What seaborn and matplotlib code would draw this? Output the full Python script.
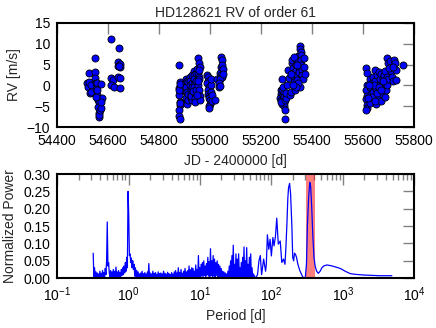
import numpy as np
import pandas as pd
import matplotlib
matplotlib.use('Agg')
import matplotlib.pyplot as plt
import seaborn as sns

# RV measurements, one list pair per observing season (JD - 2400000, m/s)
jd_s1 = [54518, 54520, 54524, 54524, 54527, 54531, 54531, 54548, 54550, 54549, 54551, 54555, 54552, 54557,
         54560, 54563, 54559, 54565, 54563, 54566, 54570, 54572, 54576, 54574, 54571, 54554, 54558,
         54612, 54642, 54640, 54645, 54637, 54645, 54610, 54619, 54612, 54623, 54640, 54645, 54648, 54642]
rv_s1 = [0.5, -0.3, 2.9, 0.9, -1.8, 0.1, -1.5, 6.7, 3.2, 1.8, 0.5, 0.5, -0.9, -2.3,
         -3.5, -4.1, -5.3, -6.7, -7.5, -7.0, -5.9, -5.5, -3.1, -4.0, 0.3, -2.8, -1.2,
         11.2, 8.9, 5.6, 5.1, 4.7, 4.4, 1.7, 1.3, 0.1, -0.3, 2.1, 1.7, -0.6, 4.6]

jd_s2 = [54878, 54880, 54876, 54881, 54879, 54882, 54881, 54877, 54879, 54880, 54878, 54883, 54880,
         54905, 54907, 54906, 54908, 54905, 54909, 54911, 54910, 54912, 54915, 54914,
         54920, 54922, 54921, 54924, 54923, 54925, 54927, 54928, 54929, 54926, 54930,
         54935, 54937, 54936, 54939, 54938, 54940, 54942, 54941, 54943, 54944, 54933, 54945,
         54952, 54955, 54950, 54953, 54956, 54958, 54954, 54957, 54960, 54959, 54962, 54951, 54948, 54956,
         54988, 54990, 54992, 54989, 54994, 54991, 54993, 54996, 54995, 54998, 55000, 54997, 54994,
         55002, 55004, 55006, 55008, 55003, 55020, 55025,
         55043, 55045, 55042, 55046, 55040, 55044, 55047, 55038, 55036, 55035, 55048, 55050, 55039, 55049]
rv_s2 = [4.8, 0.9, -0.7, -1.5, -2.3, -3.9, -4.6, -5.9, -7.3, -8.1, -1.1, 0.4, -4.2,
         1.5, 0.5, -0.5, -1.5, -3.0, -4.0, -4.5, 1.0, -2.0, 0.8, -3.6,
         2.0, 1.0, 0.0, -1.0, -2.0, -3.0, -3.5, 2.5, 0.5, -2.6, -0.4,
         3.5, 2.5, 1.5, 0.5, -0.5, -2.0, -3.0, -4.0, 3.0, 1.0, -1.4, -1.2,
         6.5, 5.5, 4.0, 3.0, 2.0, 1.5, 0.0, -1.0, -2.5, -3.5, 4.5, 1.0, -2.2, 3.6,
         2.5, 2.0, 1.0, 0.5, -0.5, -1.0, -2.0, -2.5, -3.0, -3.5, -4.5, -5.0, -5.5,
         0.0, -1.5, -3.8, -2.2, 1.5, -3.5, 1.5,
         6.8, 6.2, 4.5, 3.5, 3.0, 2.5, 2.0, 1.5, 0.5, -0.5, 5.0, 4.0, -0.2, 2.8]

jd_s3 = [55280, 55276, 55278, 55281, 55275, 55279, 55283, 55284, 55282, 55286, 55287, 55288, 55290,
         55292, 55294, 55289, 55285, 55291, 55277, 55293, 55296, 55298, 55300,
         55305, 55310, 55315, 55318, 55320, 55322, 55324, 55326, 55328, 55330, 55332, 55334, 55336,
         55338, 55340, 55342, 55344, 55346, 55348, 55350, 55352, 55353, 55354, 55355, 55356, 55357,
         55358, 55360, 55362, 55364, 55366, 55368, 55370, 55328, 55340, 55346, 55335, 55323, 55318]
rv_s3 = [1.5, -1.2, -2.0, -2.5, -3.0, -3.5, -1.0, -4.0, -4.5, -2.2, -3.2, -5.0, -4.2,
         -8.0, -6.0, -1.5, -0.5, -2.8, -4.0, -3.6, -3.0, -1.8, 0.0,
         3.8, 1.8, -2.2, -1.5, 5.5, 6.2, 4.2, 3.0, 2.0, 0.8, -1.0, 6.5, 5.0,
         3.5, 2.4, 1.2, 7.0, 5.8, 4.5, 3.2, -0.4, 9.5, 8.8, 8.0, 7.2, 6.2,
         5.0, 3.8, 2.5, 1.6, 6.5, 4.5, 2.8, 6.8, 4.8, 0.5, -0.5, 0.2, 2.8]

jd_s4 = [55612, 55613, 55614, 55612, 55616, 55611, 55615, 55613, 55612,
         55625, 55628, 55630, 55632, 55626, 55635, 55638, 55640, 55642, 55645, 55648, 55650, 55652,
         55655, 55658, 55660, 55662, 55664, 55666, 55668, 55670, 55672, 55674, 55676, 55678, 55680,
         55682, 55684, 55686, 55688, 55690, 55692, 55694, 55696, 55636, 55644, 55656, 55663, 55671,
         55679, 55622, 55620, 55646,
         55695, 55697, 55705, 55710, 55712, 55718, 55722, 55725, 55727, 55728, 55758, 55700, 55715]
rv_s4 = [4.3, 3.0, 0.0, -1.0, -2.5, -3.2, -4.8, -5.5, -6.0,
         1.5, -0.5, -2.0, -3.5, -4.2, 0.5, 2.0, -1.5, -3.0, 3.8, 1.0, -0.8, -4.5,
         2.5, 0.2, -2.5, 3.2, 1.5, -1.2, -3.8, 2.8, 0.0, -2.0, 1.8, -0.5, 2.4,
         0.8, -2.8, 3.5, 1.2, -1.0, 2.0, 0.2, 1.5, -2.8, 0.0, -1.8, -0.3, -1.0,
         1.0, 0.2, -3.0, -3.7,
         6.5, 5.5, 5.8, 3.5, 2.0, 1.0, 6.0, 5.5, 3.8, 1.3, 5.0, 4.2, 4.5]

# periodogram, short periods (0.32 - 56 d): dense forest of aliases
forest_pmin, forest_pmax = 0.32, 56.0
forest_power = [
    0.072, 0.002, 0.030, 0.001, 0.018, 0.003, 0.015, 0.000, 0.012, 0.002, 0.020, 0.001, 0.014, 0.003, 0.022, 0.002, 0.016, 0.004, 0.028, 0.010,
    0.050, 0.162, 0.035, 0.045, 0.015, 0.003, 0.022, 0.002, 0.018, 0.004, 0.025, 0.001, 0.020, 0.003, 0.032, 0.002, 0.018, 0.004, 0.022, 0.002,
    0.016, 0.005, 0.025, 0.008, 0.030, 0.010, 0.035, 0.015, 0.045, 0.020, 0.060, 0.030, 0.250, 0.185, 0.065, 0.070, 0.045, 0.058, 0.030, 0.050,
    0.025, 0.040, 0.006, 0.030, 0.003, 0.022, 0.002, 0.018, 0.004, 0.012, 0.001, 0.015, 0.003, 0.020, 0.002, 0.013, 0.001, 0.016, 0.003, 0.012,
    0.002, 0.018, 0.004, 0.042, 0.002, 0.015, 0.001, 0.012, 0.003, 0.020, 0.001, 0.014, 0.002, 0.016, 0.001, 0.011, 0.003, 0.018, 0.002, 0.013,
    0.001, 0.015, 0.002, 0.012, 0.001, 0.020, 0.003, 0.014, 0.001, 0.011, 0.002, 0.017, 0.001, 0.013, 0.003, 0.010, 0.001, 0.016, 0.002, 0.012,
    0.001, 0.018, 0.002, 0.022, 0.001, 0.015, 0.003, 0.030, 0.002, 0.016, 0.001, 0.025, 0.003, 0.014, 0.002, 0.020, 0.001, 0.028, 0.003, 0.018,
    0.002, 0.022, 0.001, 0.035, 0.003, 0.024, 0.002, 0.030, 0.004, 0.028, 0.002, 0.020, 0.003, 0.038, 0.005, 0.025, 0.002, 0.065, 0.004, 0.030,
    0.003, 0.040, 0.006, 0.045, 0.004, 0.050, 0.008, 0.035, 0.005, 0.042, 0.010, 0.060, 0.006, 0.048, 0.004, 0.085, 0.008, 0.050, 0.005, 0.065,
    0.006, 0.055, 0.004, 0.045, 0.008, 0.050, 0.003, 0.040, 0.005, 0.035, 0.002, 0.028, 0.004, 0.020, 0.001, 0.018, 0.003, 0.015, 0.001, 0.012,
    0.000, 0.020, 0.002, 0.035, 0.001, 0.050, 0.004, 0.065, 0.002, 0.095, 0.005, 0.040, 0.001, 0.070, 0.003, 0.055, 0.000, 0.070, 0.004, 0.030,
    0.001, 0.045, 0.000, 0.060, 0.003, 0.090, 0.002, 0.050, 0.000, 0.088, 0.004, 0.040, 0.001, 0.060, 0.000, 0.070, 0.002, 0.030, 0.000, 0.012]

# periodogram, long periods
long_period = [60, 64, 67, 70, 73, 78, 83, 85, 88, 92, 96, 100, 105, 109, 114, 119, 125, 133, 140, 148,
               155, 160, 165, 170, 174, 180, 186, 194, 199, 205, 211, 218, 225, 235, 250, 265, 282, 298,
               310, 320, 332, 345, 355, 368, 380, 395, 410, 430, 455, 482, 510, 540, 600, 680, 800, 920,
               1080, 1270, 1500, 1950, 2500, 3300, 4860]
long_power = [0.000, 0.010, 0.050, 0.065, 0.010, 0.055, 0.020, 0.040, 0.125, 0.083, 0.112, 0.064, 0.117,
              0.093, 0.120, 0.173, 0.098, 0.107, 0.045, 0.055, 0.040, 0.090, 0.156, 0.230, 0.261, 0.273,
              0.242, 0.146, 0.060, 0.050, 0.072, 0.068, 0.060, 0.040, 0.022, 0.010, 0.000, 0.000, 0.040,
              0.155, 0.230, 0.276, 0.265, 0.200, 0.125, 0.060, 0.035, 0.020, 0.014, 0.020, 0.030, 0.035,
              0.038, 0.036, 0.032, 0.028, 0.020, 0.013, 0.011, 0.009, 0.008, 0.007, 0.007]

span_lo, span_hi = 310, 402  # highlighted period band

rv_df = pd.DataFrame({'jd': jd_s1 + jd_s2 + jd_s3 + jd_s4,
                      'rv': rv_s1 + rv_s2 + rv_s3 + rv_s4})
forest_period = np.geomspace(forest_pmin, forest_pmax, len(forest_power))
pg = pd.DataFrame({'period': np.concatenate([forest_period, long_period]),
                   'power': np.concatenate([forest_power, long_power])})

sns.set_theme(style='white', rc={'axes.edgecolor': 'black', 'axes.linewidth': 1.5})
plt.rcParams['font.family'] = ['Liberation Sans', 'DejaVu Sans']
plt.rcParams['font.size'] = 10

fig, (ax1, ax2) = plt.subplots(2, 1, figsize=(4.36, 3.28), dpi=100)
fig.subplots_adjust(left=0.131, right=0.950, top=0.930, bottom=0.152, hspace=0.452)

sns.scatterplot(data=rv_df, x='jd', y='rv', ax=ax1, color='blue', edgecolor='black',
                linewidth=0.6, s=26, zorder=3)
ax1.set(xlim=(54400, 55800), ylim=(-10, 15), xlabel='JD - 2400000 [d]', ylabel='RV [m/s]')
ax1.set_title('HD128621 RV of order 61', fontsize=10, pad=4)
ax1.set_xticks(np.arange(54400, 55801, 200))
ax1.set_yticks([-10, -5, 0, 5, 10, 15])

ax2.axvspan(span_lo, span_hi, color='red', alpha=0.5, lw=0, zorder=1)
sns.lineplot(data=pg, x='period', y='power', ax=ax2, color='blue', lw=0.9,
             sort=False, estimator=None, zorder=2)
ax2.set_xscale('log')
ax2.set(xlim=(0.1, 1e4), ylim=(0, 0.30), xlabel='Period [d]', ylabel='Normalized Power')
ax2.set_yticks(np.arange(0, 0.31, 0.05))
ax2.set_yticklabels(['%.2f' % v for v in np.arange(0, 0.31, 0.05)])

for ax in (ax1, ax2):
    ax.tick_params(which='both', direction='in', top=True, right=True, color='0.5',
                   labelcolor='black', labelsize=10, width=1)
    ax.tick_params(which='major', length=8, pad=5)
    ax.tick_params(which='minor', length=4)
    ax.xaxis.label.set_size(10)
    ax.yaxis.label.set_size(10)
    for sp in ax.spines.values():
        sp.set_color('black')
        sp.set_linewidth(1.5)

fig.savefig('out.png', dpi=100)
